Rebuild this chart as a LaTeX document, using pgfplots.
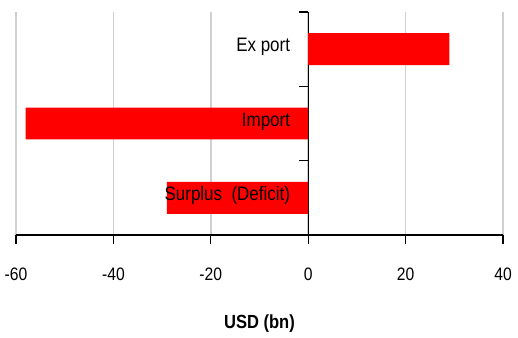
\documentclass[border=0pt]{standalone}
\usepackage{fontspec}
\setmainfont[FakeStretch=0.87]{Liberation Sans}
\usepackage{pgfplots}
\pgfplotsset{compat=1.18}
\definecolor{gridgray}{HTML}{D0D0D0}
\begin{document}
\begin{tikzpicture}
\begin{axis}[
  scale only axis,
  width=487pt, height=223pt,
  xmin=-60, xmax=40,
  ymin=-0.5, ymax=2.5,
  xtick={-60,-40,...,40},
  axis x line=bottom,
  axis y line=middle,
  axis line style={-, line width=1.1pt, black},
  xmajorgrids,
  grid style={gridgray, line width=1.5pt},
  x tick style={black, line width=1.1pt},
  tick align=outside,
  major tick length=9pt,
  xticklabel style={font=\fontsize{18}{20}\selectfont, yshift=-20pt},
  /pgf/number format/assume math mode=true,
  ytick={0.5,1.5,2.5},
  yticklabels={},
  y tick style={black, line width=1.1pt},
  ymajorgrids=false,
  xlabel={\bfseries USD (bn)},
  xlabel style={font=\fontsize{19}{22}\selectfont\bfseries, yshift=-28pt},
  clip=false,
]
\addplot[xbar, bar width=0.43, fill=red, draw=none] coordinates {(-29,0) (-58,1) (29,2)};
\node[anchor=east, inner sep=0pt, xshift=-18pt, yshift=2pt, font=\fontsize{19.5}{22}\selectfont] at (axis cs:0,2) {Ex port};
\node[anchor=east, inner sep=0pt, xshift=-18pt, yshift=2pt, font=\fontsize{19.5}{22}\selectfont] at (axis cs:0,1) {Import};
\node[anchor=east, inner sep=0pt, xshift=-18pt, yshift=2pt, font=\fontsize{19.5}{22}\selectfont] at (axis cs:0,0) {Surplus\ \ (Deficit)};
\coordinate (sw) at (rel axis cs:0,0);
\coordinate (ne) at (rel axis cs:1,1);
\end{axis}
\path (sw) ++(-16pt,-102pt);
\path (ne) ++(15pt,12pt);
\end{tikzpicture}
\end{document}
